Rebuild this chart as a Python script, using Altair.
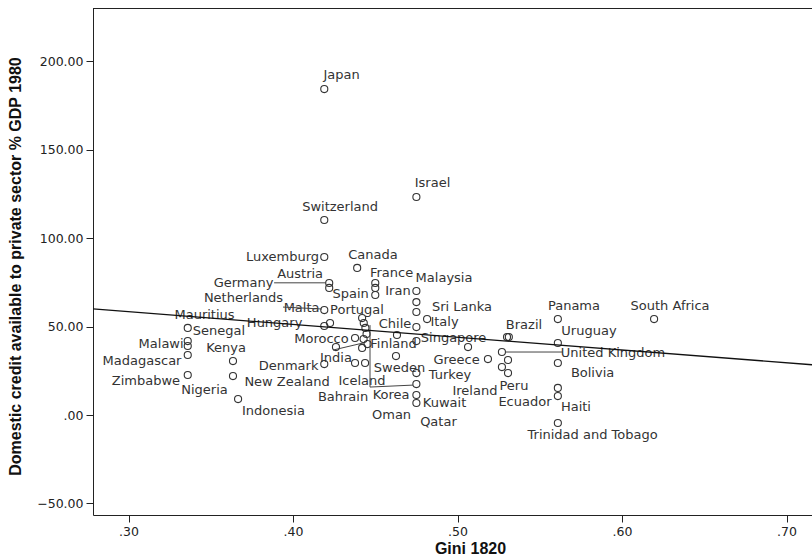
import altair as alt
import pandas as pd

# ---- data points (Gini 1820, domestic credit % GDP 1980) ----
country = [
    "Japan", "Israel", "Switzerland", "Luxemburg", "Canada", "Germany", "Austria",
    "France", "", "Spain", "Iran", "Malaysia", "Sri Lanka", "Italy", "Chile",
    "Malta", "Portugal", "", "", "Hungary", "Netherlands", "Mauritius", "Senegal",
    "Malawi", "Madagascar", "Zimbabwe", "Kenya", "Nigeria", "Indonesia", "Morocco",
    "", "", "Finland", "", "India", "Denmark", "Iceland", "Sweden", "",
    "Singapore", "New Zealand", "", "Greece", "Turkey", "Korea", "Kuwait", "Qatar",
    "Brazil", "", "United Kingdom", "Ireland", "Peru", "", "Panama", "Uruguay",
    "Bolivia", "Ecuador", "Haiti", "Trinidad and Tobago", "South Africa",
]
gini = [
    0.419, 0.475, 0.419, 0.419, 0.439, 0.422, 0.422,
    0.450, 0.450, 0.450, 0.475, 0.475, 0.475, 0.4815, 0.475,
    0.419, 0.442, 0.443, 0.444, 0.419, 0.4225, 0.336, 0.336,
    0.336, 0.336, 0.336, 0.3635, 0.3635, 0.3666, 0.4377,
    0.4447, 0.4429, 0.4453, 0.442, 0.4261, 0.419, 0.4377, 0.4438, 0.4632,
    0.475, 0.4626, 0.5064, 0.5185, 0.475, 0.475, 0.475, 0.475,
    0.5301, 0.5312, 0.527, 0.5307, 0.527, 0.5307, 0.561, 0.561,
    0.561, 0.561, 0.561, 0.561, 0.6195,
]
credit = [
    184.2, 123.2, 110.2, 89.3, 83.1, 74.6, 71.8,
    74.6, 71.8, 67.8, 70.1, 63.8, 58.2, 54.2, 49.7,
    59.3, 54.8, 52.0, 49.2, 50.3, 52.0, 49.2, 41.8,
    39.0, 33.9, 22.6, 30.5, 22.0, 9.0, 43.5,
    45.8, 42.9, 40.1, 37.9, 38.4, 28.8, 29.4, 29.4, 45.2,
    41.8, 33.3, 38.4, 31.6, 23.7, 17.5, 11.3, 6.8,
    44.1, 44.1, 35.6, 31.1, 27.1, 23.7, 54.2, 40.7,
    29.4, 15.3, 10.7, -4.5, 54.2,
]

# ---- point labels (text centre, in data units) ----
label_text = [
    "Japan", "Israel", "Switzerland", "Luxemburg", "Canada", "Austria", "Germany",
    "France", "Malaysia", "Spain", "Iran", "Netherlands", "Malta", "Portugal",
    "Sri Lanka", "Mauritius", "Hungary", "Chile", "Italy", "Panama", "South Africa",
    "Senegal", "Brazil", "Uruguay", "Malawi", "Morocco", "Finland", "Singapore",
    "Kenya", "Madagascar", "United Kingdom", "Greece", "Denmark", "India", "Sweden",
    "Bolivia", "Zimbabwe", "New Zealand", "Iceland", "Turkey", "Peru", "Nigeria",
    "Ireland", "Bahrain", "Korea", "Kuwait", "Ecuador", "Haiti", "Indonesia",
    "Oman", "Qatar", "Trinidad and Tobago",
]
label_gini = [
    0.4295, 0.4848, 0.4286, 0.3936, 0.4486, 0.4043, 0.3699,
    0.4599, 0.4918, 0.4350, 0.4638, 0.3699, 0.4052, 0.4389,
    0.5027, 0.3462, 0.3888, 0.4620, 0.4921, 0.5708, 0.6292,
    0.3550, 0.5404, 0.5799, 0.3198, 0.4173, 0.4611, 0.4976,
    0.3593, 0.3082, 0.5945, 0.4994, 0.3973, 0.4261, 0.4647,
    0.5821, 0.3106, 0.3964, 0.4419, 0.4954, 0.5343, 0.3462,
    0.5106, 0.4304, 0.4596, 0.4921, 0.5410, 0.5720, 0.3881,
    0.4599, 0.4884, 0.5821,
]
label_credit = [
    192.1, 131.1, 117.5, 89.3, 90.4, 79.7, 74.6,
    80.2, 77.4, 68.4, 70.1, 66.1, 60.5, 59.3,
    61.0, 56.5, 52.0, 51.4, 52.5, 61.6, 61.6,
    47.5, 50.8, 47.5, 40.1, 42.9, 40.1, 43.5,
    37.9, 30.5, 35.0, 31.1, 27.7, 32.2, 26.6,
    23.7, 19.2, 18.6, 19.2, 22.6, 16.4, 14.1,
    13.6, 10.2, 11.3, 6.8, 7.3, 4.5, 2.3,
    0.0, -4.0, -11.3,
]

# ---- label leader lines (data units) ----
lead_x = [0.3885, 0.3939, 0.4243, 0.4468, 0.4468, 0.5289]
lead_y = [74.7, 61.0, 36.7, 50.8, 15.8, 35.6]
lead_x2 = [0.4201, 0.4176, 0.4426, 0.4468, 0.4729, 0.5641]
lead_y2 = [74.7, 59.9, 40.7, 15.8, 16.9, 35.6]

# ---- linear fit line ----
fit_intercept = 80.0
fit_slope = -72.1

X_DOMAIN = [0.2784, 0.7155]
Y_DOMAIN = [-56.5, 230.0]

points_df = pd.DataFrame({"country": country, "gini": gini, "credit": credit})
labels_df = pd.DataFrame({"label": label_text, "gini": label_gini, "credit": label_credit})
lead_df = pd.DataFrame({"x": lead_x, "y": lead_y, "x2": lead_x2, "y2": lead_y2})
fit_df = pd.DataFrame({
    "gini": X_DOMAIN,
    "credit": [fit_intercept + fit_slope * v for v in X_DOMAIN],
})

xs = alt.Scale(domain=X_DOMAIN, nice=False, zero=False)
ys = alt.Scale(domain=Y_DOMAIN, nice=False, zero=False)

x_axis = alt.Axis(
    values=[0.3, 0.4, 0.5, 0.6, 0.7],
    labelExpr="substring(format(datum.value, '.2f'), 1)",
    title="Gini 1820",
    titleX=377, titleY=33, titleAlign="center", titleBaseline="middle",
    labelPadding=3,
)
y_axis = alt.Axis(
    values=[-50, 0, 50, 100, 150, 200],
    labelExpr="datum.value == 0 ? '.00' : format(datum.value, '.2f')",
    title="Domestic credit available to private sector % GDP 1980",
    titleX=-78, titleY=258, titleAngle=270, titleAlign="center", titleBaseline="middle",
    labelPadding=3,
)

points = alt.Chart(points_df).mark_point(
    shape="circle", filled=False, size=50, stroke="#333333", strokeWidth=1.1, opacity=1
).encode(
    x=alt.X("gini:Q", scale=xs, axis=x_axis),
    y=alt.Y("credit:Q", scale=ys, axis=y_axis),
)

labels = alt.Chart(labels_df).mark_text(
    font="DejaVu Sans", fontSize=13, color="#333333", align="center", baseline="middle"
).encode(
    x=alt.X("gini:Q", scale=xs),
    y=alt.Y("credit:Q", scale=ys),
    text="label:N",
)

leaders = alt.Chart(lead_df).mark_rule(color="#444444", strokeWidth=1).encode(
    x=alt.X("x:Q", scale=xs), y=alt.Y("y:Q", scale=ys),
    x2="x2:Q", y2="y2:Q",
)

fit = alt.Chart(fit_df).mark_line(color="#111111", strokeWidth=1.3, clip=True).encode(
    x=alt.X("gini:Q", scale=xs), y=alt.Y("credit:Q", scale=ys),
)

top_border = alt.Chart(fit_df).mark_rule(color="#222222", strokeWidth=1).encode(
    x=alt.value(0), x2=alt.value(719), y=alt.value(0.5),
)

chart = alt.layer(points, labels, leaders, fit, top_border).properties(
    width=719, height=507,
    autosize=alt.AutoSizeParams(type="none"),
    padding={"left": 93, "top": 8, "right": 0, "bottom": 42},
    background="white",
).configure_view(stroke=None).configure_axis(
    grid=False,
    domainColor="#222222", domainWidth=1,
    tickColor="#222222", tickSize=7, tickWidth=1,
    labelFont="DejaVu Sans", labelFontSize=12.5, labelColor="#222222",
    titleFont="Liberation Sans", titleFontSize=16, titleFontWeight="bold", titleColor="#111111",
)

chart.save("out.html", embed_options={"renderer": "svg", "actions": False})
